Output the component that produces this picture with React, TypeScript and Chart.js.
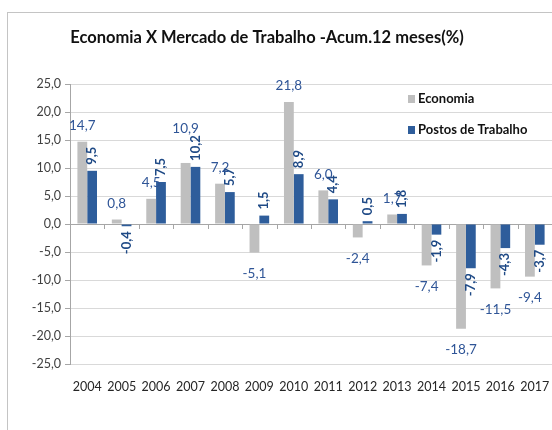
import React, { useEffect, useRef } from "react";
import { Chart, registerables } from "chart.js";

Chart.register(...registerables);

const years = ["2004", "2005", "2006", "2007", "2008", "2009", "2010", "2011", "2012", "2013", "2014", "2015", "2016", "2017"];
const economia = [14.7, 0.8, 4.5, 10.9, 7.2, -5.1, 21.8, 6.0, -2.4, 1.7, -7.4, -18.7, -11.5, -9.4];
const postos = [9.5, -0.4, 7.5, 10.2, 5.7, 1.5, 8.9, 4.4, 0.5, 1.8, -1.9, -7.9, -4.3, -3.7];
const seriesNames = ["Economia", "Postos de Trabalho"];
// categories whose Economia label sits above the neighbouring rotated label
const raisedEconomiaLabels = ["2007"];
const yMin = -25;
const yMax = 25;
const yStep = 5;
const titleText = "Economia X Mercado de Trabalho -Acum.12 meses(%)";

const FONT = "Lato, 'Noto Sans', sans-serif";
const GRAY = "#bfbfbf";
const BLUE = "#2e5d9b";
const LABEL_BLUE = "#2f5597";
const LABEL_BLUE_DARK = "#1f4a86";

const CANVAS_SHIFT = 18; // canvas starts left of the window so the title centres like the original frame
const CANVAS_W = 552 + CANVAS_SHIFT;

const fmt = (v: number) => v.toFixed(1).replace(".", ",");

const overlayPlugin = {
  id: "overlay",
  afterDatasetsDraw(chart: any) {
    const ctx = chart.ctx;
    const area = chart.chartArea;
    const yScale = chart.scales.y;
    const y0 = yScale.getPixelForValue(0);

    // small tick marks on the zero line at category boundaries
    ctx.save();
    ctx.strokeStyle = "#a6a6a6";
    ctx.lineWidth = 1;
    const n = years.length;
    const cw = (area.right - area.left) / n;
    for (let k = 1; k < n; k++) {
      const x = Math.round(area.left + cw * k) + 0.5;
      ctx.beginPath();
      ctx.moveTo(x, y0);
      ctx.lineTo(x, y0 + 5);
      ctx.stroke();
    }
    ctx.restore();

    // Postos labels (rotated)
    const m1 = chart.getDatasetMeta(1);
    const postosTops: number[] = [];
    ctx.save();
    ctx.font = `bold 13px ${FONT}`;
    ctx.fillStyle = LABEL_BLUE_DARK;
    ctx.textBaseline = "middle";
    m1.data.forEach((bar: any, i: number) => {
      const v = postos[i];
      const txt = fmt(v);
      const w = ctx.measureText(txt).width;
      const start = v >= 0 ? bar.y - 6 : bar.y + 5;
      postosTops[i] = v >= 0 ? start - w : start;
      ctx.save();
      ctx.translate(bar.x, start);
      ctx.rotate(-Math.PI / 2);
      ctx.textAlign = v >= 0 ? "left" : "right";
      ctx.fillText(txt, 0, 0);
      ctx.restore();
    });
    ctx.restore();

    // Economia labels (horizontal)
    const m0 = chart.getDatasetMeta(0);
    ctx.save();
    ctx.font = `13.5px ${FONT}`;
    ctx.fillStyle = LABEL_BLUE;
    ctx.textAlign = "center";
    ctx.textBaseline = "middle";
    m0.data.forEach((bar: any, i: number) => {
      const v = economia[i];
      let y = v >= 0 ? bar.y - 16 : bar.y + 21;
      if (raisedEconomiaLabels.includes(years[i])) y = Math.min(y, postosTops[i] - 7);
      ctx.fillText(fmt(v), bar.x, y);
    });
    ctx.restore();

    // legend inside plot
    ctx.save();
    ctx.font = `bold 13px ${FONT}`;
    ctx.textBaseline = "middle";
    ctx.textAlign = "left";
    const lx = area.right - 144;
    const ly = [area.top + 15, area.top + 46];
    const colors = [GRAY, BLUE];
    seriesNames.forEach((name, i) => {
      ctx.fillStyle = colors[i];
      ctx.fillRect(lx, ly[i] - 4, 7, 8);
      ctx.fillStyle = "#111";
      ctx.fillText(name, lx + 10, ly[i]);
    });
    ctx.restore();
  },
};

export default function App() {
  const ref = useRef<HTMLCanvasElement | null>(null);

  useEffect(() => {
    if (!ref.current) return;
    const chart = new Chart(ref.current, {
      type: "bar",
      data: {
        labels: years,
        datasets: [
          { label: seriesNames[0], data: economia, backgroundColor: GRAY, categoryPercentage: 0.57, barPercentage: 1 },
          { label: seriesNames[1], data: postos, backgroundColor: BLUE, categoryPercentage: 0.57, barPercentage: 1 },
        ],
      },
      options: {
        animation: false,
        responsive: false,
        layout: { padding: { left: 0, right: 0, top: 0, bottom: 0 } },
        plugins: {
          legend: { display: false },
          tooltip: { enabled: false },
          title: {
            display: true,
            text: titleText,
            color: "#111",
            font: { family: FONT, size: 16.5, weight: "bold" },
            padding: { top: 27.5, bottom: 36.7 },
          },
        },
        scales: {
          x: {
            grid: { display: true, drawOnChartArea: false, drawTicks: true, tickLength: 15, tickColor: "rgba(0,0,0,0)" },
            border: { display: false },
            ticks: { color: "#262626", font: { family: FONT, size: 12.5 }, padding: 0, maxRotation: 0 },
            afterFit: (s: any) => { s.height = 66; },
          },
          y: {
            min: yMin,
            max: yMax,
            ticks: {
              stepSize: yStep,
              color: "#404040",
              font: { family: FONT, size: 12.5 },
              padding: 4,
              callback: (v: any) => fmt(Number(v)),
            },
            grid: {
              color: (c: any) => (c.tick && c.tick.value === 0 ? "#a6a6a6" : "#d9d9d9"),
              tickColor: "#a6a6a6",
              tickLength: 5,
            },
            border: { display: true, color: "#a6a6a6" },
            afterFit: (s: any) => { s.width = 70 + CANVAS_SHIFT; },
          },
        },
      },
      plugins: [overlayPlugin],
    } as any);
    return () => chart.destroy();
  }, []);

  return (
    <div style={{ position: "absolute", left: 0, top: 0, width: 552, height: 430, overflow: "hidden", background: "#fff" }}>
      <div style={{ position: "absolute", left: 7, top: 12, width: 600, height: 500, borderLeft: "1px solid #c4c4c4", borderTop: "1px solid #c4c4c4" }} />
      <canvas ref={ref} width={CANVAS_W} height={430} style={{ position: "absolute", left: -CANVAS_SHIFT, top: 0, display: "block" }} />
    </div>
  );
}
